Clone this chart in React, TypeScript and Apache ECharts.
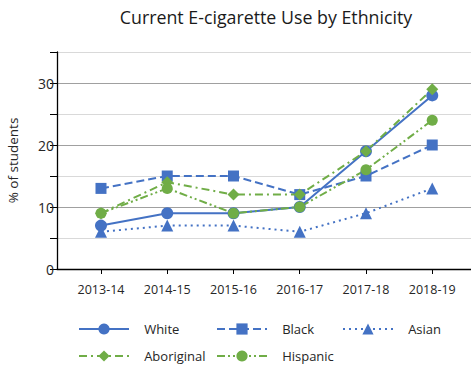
import React, { useEffect, useRef } from "react";
import * as echarts from "echarts";

const years = ["2013-14", "2014-15", "2015-16", "2016-17", "2017-18", "2018-19"];
const white = [7, 9, 9, 10, 19, 28];
const black = [13, 15, 15, 12, 15, 20];
const asian = [6, 7, 7, 6, 9, 13];
const aboriginal = [9, 14, 12, 12, 19, 29];
const hispanic = [9, 13, 9, 10, 16, 24];
const yTicks = [0, 10, 20, 30];

const BLUE = "#4472C4";
const GREEN = "#70AD47";
const FONT = "Open Sans";

const toPoints = (vals: number[]) => vals.map((v, i) => [i, v]);

export default function App() {
  const ref = useRef<HTMLDivElement>(null);

  useEffect(() => {
    if (!ref.current) return;
    const chart = echarts.init(ref.current, undefined, { renderer: "svg" });

    const mk = (
      name: string,
      vals: number[],
      color: string,
      dash: any,
      symbol: string,
      size: number
    ) => ({
      name,
      type: "line",
      data: toPoints(vals),
      symbol,
      symbolSize: size,
      showSymbol: true,
      lineStyle: { color, width: 2, type: dash },
      itemStyle: { color, borderWidth: 0 },
    });

    const legendItem = (name: string, left: number, top: number) => ({
      data: [name],
      left,
      top,
      padding: 0,
      orient: "horizontal",
      itemWidth: 50,
      itemHeight: 14,
      formatter: (n: string) => "   " + n,
      textStyle: {
        fontFamily: FONT,
        fontSize: 13,
        lineHeight: 14,
        color: "#262626",
      },
    });

    chart.setOption({
      animation: false,
      title: {
        text: "Current E-cigarette Use by Ethnicity",
        left: 266,
        top: 8,
        padding: 0,
        textAlign: "center",
        textStyle: {
          fontFamily: FONT,
          fontSize: 17.8,
          fontWeight: "normal",
          color: "#1a1a1a",
        },
      },
      grid: {
        left: 57,
        right: 0,
        top: 52,
        bottom: 97,
        containLabel: false,
        outerBoundsMode: "none",
      },
      xAxis: {
        type: "value",
        min: -0.664,
        max: 5.585,
        axisLine: { show: true, onZero: false, lineStyle: { color: "#000", width: 1.3 } },
        axisTick: {
          show: true,
          length: 5,
          customValues: years.map((_, i) => i),
          lineStyle: { color: "#000" },
        },
        axisLabel: {
          customValues: years.map((_, i) => i),
          formatter: (v: number) => years[Math.round(v)] ?? "",
          margin: 14,
          fontFamily: FONT,
          fontSize: 12.5,
          color: "#262626",
        },
        splitLine: { show: false },
        minorSplitLine: { show: false },
      },
      yAxis: {
        type: "value",
        position: "left",
        min: 0,
        max: 35,
        interval: 5,
        name: "% of students",
        nameLocation: "middle",
        nameRotate: 90,
        nameGap: 37,
        nameTextStyle: { fontFamily: FONT, fontSize: 13.5, color: "#262626" },
        axisLine: { show: true, onZero: false, lineStyle: { color: "#000", width: 1.3 } },
        axisTick: { show: true, length: 7, lineStyle: { color: "#000" } },
        axisLabel: {
          formatter: (v: number) => (yTicks.includes(v) ? String(v) : ""),
          margin: 3,
          fontFamily: FONT,
          fontSize: 14,
          color: "#262626",
        },
        splitLine: {
          show: true,
          lineStyle: { color: ["#a0a0a0", "#d9d9d9"], width: 1 },
        },
      },
      legend: [
        legendItem("White", 78, 322),
        legendItem("Black", 216, 322),
        legendItem("Asian", 342, 322),
        legendItem("Aboriginal", 78, 349),
        legendItem("Hispanic", 216, 349),
      ],
      series: [
        mk("White", white, BLUE, "solid", "circle", 12),
        mk("Black", black, BLUE, [8, 4], "rect", 11),
        mk("Asian", asian, BLUE, [2, 4], "triangle", 12),
        mk("Aboriginal", aboriginal, GREEN, [8, 4, 2, 4], "diamond", 12),
        mk("Hispanic", hispanic, GREEN, [8, 3, 2, 3, 2, 3], "circle", 11),
      ],
    });

    return () => chart.dispose();
  }, []);

  return (
    <div
      ref={ref}
      style={{ position: "absolute", left: 0, top: 0, width: 471, height: 366, background: "#fff" }}
    />
  );
}
